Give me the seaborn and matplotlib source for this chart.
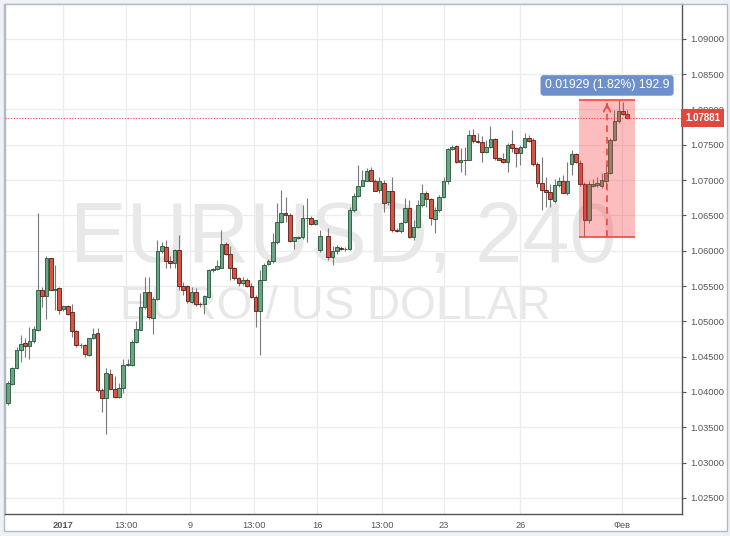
import numpy as np
import pandas as pd
import seaborn as sns
import matplotlib.pyplot as plt
import matplotlib.transforms as mtransforms
from matplotlib.patches import Rectangle


# EURUSD 4h candles (one slot is empty)

opens = [
    1.0384, 1.0411, 1.0434, 1.0460, 1.0469, 1.0465, 1.0472, 1.0488, 1.0545, 1.0536,
    1.0589, 1.0545, 1.0547, 1.0517, 1.0521, 1.0513, 1.0486, 1.0466, 1.0466, 1.0452,
    1.0476, 1.0483, 1.0403, 1.0392, 1.0426, 1.0404, 1.0393, 1.0405, 1.0438, 1.0438,
    1.0471, 1.0488, 1.0520, 1.0542, 1.0505, 1.0531, 1.0599, 1.0605, 1.0585, 1.0583,
    1.0601, 1.0550, 1.0550, 1.0528, 1.0542, 1.0525, 1.0524, 1.0535, 1.0572, 1.0574,
    1.0576, 1.0610, 1.0596, 1.0575, 1.0561, 1.0554, 1.0559, 1.0550, 1.0535, 1.0514,
    1.0559, 1.0581, 1.0585, 1.0613, 1.0641, 1.0654, 1.0651, 1.0614, 1.0618, 1.0619,
    1.0646, 1.0647, 1.0638, 1.0601, np.nan, 1.0621, 1.0591, 1.0599, 1.0604, 1.0602,
    1.0602, 1.0658, 1.0678, 1.0692, 1.0699, 1.0714, 1.0699, 1.0686, 1.0696, 1.0669,
    1.0684, 1.0630, 1.0628, 1.0640, 1.0661, 1.0620, 1.0633, 1.0665, 1.0681, 1.0673,
    1.0645, 1.0657, 1.0676, 1.0699, 1.0744, 1.0748, 1.0725, 1.0729, 1.0729, 1.0764,
    1.0756, 1.0754, 1.0740, 1.0747, 1.0758, 1.0731, 1.0730, 1.0726, 1.0751, 1.0746,
    1.0738, 1.0747, 1.0759, 1.0757, 1.0723, 1.0696, 1.0686, 1.0683, 1.0671, 1.0693,
    1.0699, 1.0682, 1.0723, 1.0737, 1.0724, 1.0695, 1.0643, 1.0692, 1.0693, 1.0692,
    1.0699, 1.0710, 1.0757, 1.0783, 1.0798, 1.0794,
]
highs = [
    1.0415, 1.0436, 1.0464, 1.0481, 1.0477, 1.0492, 1.0493, 1.0654, 1.0548, 1.0592,
    1.0590, 1.0580, 1.0548, 1.0522, 1.0523, 1.0525, 1.0488, 1.0469, 1.0468, 1.0477,
    1.0490, 1.0490, 1.0405, 1.0434, 1.0433, 1.0423, 1.0413, 1.0446, 1.0446, 1.0474,
    1.0500, 1.0540, 1.0563, 1.0563, 1.0535, 1.0615, 1.0613, 1.0615, 1.0592, 1.0603,
    1.0622, 1.0556, 1.0551, 1.0549, 1.0547, 1.0527, 1.0537, 1.0574, 1.0576, 1.0587,
    1.0629, 1.0613, 1.0606, 1.0577, 1.0563, 1.0563, 1.0561, 1.0554, 1.0537, 1.0573,
    1.0582, 1.0588, 1.0625, 1.0667, 1.0686, 1.0676, 1.0653, 1.0619, 1.0621, 1.0665,
    1.0674, 1.0649, 1.0644, 1.0630, np.nan, 1.0632, 1.0606, 1.0608, 1.0606, 1.0605,
    1.0662, 1.0681, 1.0721, 1.0714, 1.0717, 1.0719, 1.0702, 1.0705, 1.0700, 1.0684,
    1.0705, 1.0632, 1.0641, 1.0674, 1.0672, 1.0644, 1.0672, 1.0695, 1.0684, 1.0674,
    1.0662, 1.0679, 1.0705, 1.0745, 1.0750, 1.0750, 1.0745, 1.0747, 1.0771, 1.0773,
    1.0766, 1.0762, 1.0757, 1.0776, 1.0759, 1.0733, 1.0738, 1.0752, 1.0771, 1.0747,
    1.0750, 1.0766, 1.0764, 1.0760, 1.0725, 1.0733, 1.0705, 1.0695, 1.0702, 1.0705,
    1.0707, 1.0726, 1.0743, 1.0739, 1.0729, 1.0697, 1.0698, 1.0702, 1.0705, 1.0710,
    1.0724, 1.0759, 1.0799, 1.08128, 1.0811, 1.0799,
]
lows = [
    1.0382, 1.0410, 1.0433, 1.0442, 1.0450, 1.0446, 1.0470, 1.0486, 1.0520, 1.0504,
    1.0544, 1.0516, 1.0511, 1.0515, 1.0509, 1.0478, 1.0464, 1.0462, 1.0450, 1.0451,
    1.0475, 1.0400, 1.0372, 1.0341, 1.0403, 1.0392, 1.0392, 1.0398, 1.0437, 1.0437,
    1.0470, 1.0488, 1.0518, 1.0504, 1.0482, 1.0530, 1.0597, 1.0575, 1.0575, 1.0576,
    1.0544, 1.0537, 1.0526, 1.0526, 1.0521, 1.0520, 1.0511, 1.0533, 1.0570, 1.0572,
    1.0575, 1.0594, 1.0559, 1.0559, 1.0550, 1.0551, 1.0549, 1.0533, 1.0492, 1.0452,
    1.0559, 1.0580, 1.0582, 1.0610, 1.0639, 1.0641, 1.0613, 1.0603, 1.0616, 1.0616,
    1.0613, 1.0636, 1.0636, 1.0598, np.nan, 1.0587, 1.0580, 1.0596, 1.0601, 1.0600,
    1.0601, 1.0655, 1.0676, 1.0691, 1.0698, 1.0698, 1.0684, 1.0681, 1.0655, 1.0665,
    1.0627, 1.0627, 1.0625, 1.0639, 1.0618, 1.0615, 1.0632, 1.0662, 1.0662, 1.0636,
    1.0625, 1.0655, 1.0674, 1.0695, 1.0743, 1.0724, 1.0712, 1.0707, 1.0728, 1.0753,
    1.0752, 1.0726, 1.0738, 1.0746, 1.0729, 1.0728, 1.0724, 1.0712, 1.0740, 1.0719,
    1.0721, 1.0745, 1.0754, 1.0720, 1.0690, 1.0658, 1.0662, 1.0662, 1.0667, 1.0690,
    1.0681, 1.0679, 1.0707, 1.0724, 1.0692, 1.06199, 1.0639, 1.0690, 1.0690, 1.0689,
    1.0688, 1.0709, 1.0756, 1.0781, 1.0792, 1.0787,
]
closes = [
    1.0412, 1.0434, 1.0460, 1.0468, 1.0465, 1.0472, 1.0489, 1.0544, 1.0536, 1.0589,
    1.0545, 1.0546, 1.0516, 1.0521, 1.0511, 1.0487, 1.0466, 1.0467, 1.0454, 1.0476,
    1.0482, 1.0403, 1.0392, 1.0427, 1.0404, 1.0393, 1.0405, 1.0438, 1.0440, 1.0471,
    1.0489, 1.0520, 1.0542, 1.0506, 1.0531, 1.0599, 1.0606, 1.0585, 1.0583, 1.0601,
    1.0550, 1.0544, 1.0529, 1.0542, 1.0525, 1.0524, 1.0536, 1.0573, 1.0574, 1.0578,
    1.0610, 1.0596, 1.0575, 1.0561, 1.0554, 1.0559, 1.0550, 1.0535, 1.0514, 1.0559,
    1.0580, 1.0585, 1.0613, 1.0641, 1.0654, 1.0651, 1.0614, 1.0619, 1.0620, 1.0646,
    1.0647, 1.0638, 1.0643, 1.0621, np.nan, 1.0591, 1.0599, 1.0605, 1.0602, 1.0603,
    1.0658, 1.0678, 1.0692, 1.0700, 1.0713, 1.0699, 1.0685, 1.0698, 1.0668, 1.0684,
    1.0629, 1.0628, 1.0639, 1.0661, 1.0620, 1.0633, 1.0665, 1.0681, 1.0673, 1.0647,
    1.0657, 1.0676, 1.0699, 1.0744, 1.0747, 1.0725, 1.0729, 1.0728, 1.0764, 1.0756,
    1.0754, 1.0740, 1.0747, 1.0758, 1.0731, 1.0729, 1.0726, 1.0750, 1.0746, 1.0739,
    1.0747, 1.0759, 1.0756, 1.0723, 1.0696, 1.0686, 1.0683, 1.0673, 1.0693, 1.0699,
    1.0682, 1.0699, 1.0737, 1.0726, 1.0695, 1.0644, 1.0694, 1.0694, 1.0696, 1.0700,
    1.0710, 1.0757, 1.0784, 1.0798, 1.0794, 1.07881,
]

time_ticks = [13, 27.7, 42.6, 57.5, 72.4, 87.6, 102, 120, 143.8]
time_labels = ["2017", "13:00", "9", "13:00", "16", "13:00", "23", "26", "Фев"]
price_ticks = [1.025, 1.030, 1.035, 1.040, 1.045, 1.050, 1.055, 1.060, 1.065,
               1.070, 1.075, 1.080, 1.085, 1.090]

last_price = 1.07881
range_low = 1.06199
range_high = 1.08128
range_text = "0.01929 (1.82%) 192.9"


# Build table

df = pd.DataFrame({"open": opens, "high": highs, "low": lows, "close": closes})
df["idx"] = np.arange(len(df))
df = df.dropna()
up = df["close"] >= df["open"]
body_low = df[["open", "close"]].min(axis=1)
body_h = (df["close"] - df["open"]).abs().clip(lower=0.00006)


# Figure

sns.set_theme(style="white")
plt.rcParams["font.family"] = ["Liberation Sans", "DejaVu Sans"]

fig = plt.figure(figsize=(7.3, 5.36), dpi=100, facecolor="#eef1f5")
panel = Rectangle((4 / 730, 5 / 536), 723 / 730, 527 / 536,
                  transform=fig.transFigure, facecolor="white",
                  edgecolor="#b4b9c2", lw=1, zorder=-5)
fig.patches.append(panel)
ax = fig.add_axes([5 / 730, 22 / 536, 677 / 730, 510 / 536])
ax.set_zorder(1)
ax.set_facecolor("white")

# watermark
ax.text(0.5, 0.494, "EURUSD, 240", transform=ax.transAxes, ha="center", va="baseline",
        fontsize=61, color="#e8e8e8", zorder=1)
ax.text(0.488, 0.382, "EURO / US DOLLAR", transform=ax.transAxes, ha="center",
        va="baseline", fontsize=33, color="#e8e8e8", zorder=1)

# candles
ax.vlines(df["idx"], df["low"], df["high"], color="#7a7a7c", lw=0.8, zorder=2)
ax.bar(df["idx"], body_h, bottom=body_low, width=0.85,
       color=np.where(up, "#6ba583", "#d75442"),
       edgecolor=np.where(up, "#225437", "#5b1a13"), lw=0.6, zorder=3)

# last price line
ax.axhline(last_price, color="#e8473e", lw=0.8, ls=(0, (1, 1.5)), zorder=4)

# measurement box
x0, x1, xa = 133.8, 146.8, 140.3
ax.add_patch(Rectangle((x0, range_low), x1 - x0, range_high - range_low,
                       facecolor=(0.96, 0.2, 0.2, 0.32), edgecolor="none", zorder=5))
ax.hlines([range_low, range_high], x0, x1, color="#f0483e", lw=1.2, zorder=6)
ax.vlines(xa, range_low, range_high - 0.0003, color="#f0483e", lw=1.2,
          linestyles=(0, (4, 3)), zorder=6)
ax.annotate("", xy=(xa, range_high), xytext=(xa, range_high - 0.0012),
            arrowprops=dict(arrowstyle="->", color="#f0483e", lw=1.2), zorder=6)
ax.text(xa, 1.0834, range_text, ha="center", va="center", color="white", fontsize=8.8,
        zorder=7, bbox=dict(boxstyle="round,pad=0.35,rounding_size=0.25",
                            fc="#6d8fca", ec="none"))

# axes
ax.set_xlim(-0.7, 157.85)
ax.set_ylim(1.02272, 1.09493)
ax.set_xticks(time_ticks, time_labels)
ax.set_yticks(price_ticks, [f"{v:.5f}" for v in price_ticks])
ax.yaxis.tick_right()
ax.tick_params(axis="both", length=3, width=0.8, color="#555555",
               labelsize=6.7, labelcolor="#555555")
ax.tick_params(axis="x", pad=2)
ax.tick_params(axis="y", pad=3)
ax.get_xticklabels()[0].set_fontweight("bold")
ax.grid(True, color="#ececec", lw=0.9)
ax.set_axisbelow(True)

for side in ["left", "top"]:
    ax.spines[side].set_color("#b4b9c2")
for side in ["right", "bottom"]:
    ax.spines[side].set_color("#555555")
for side in ax.spines:
    ax.spines[side].set_linewidth(1)

# last price tag on the price scale
trans = mtransforms.blended_transform_factory(ax.transAxes, ax.transData)
ax.text(1.005, last_price, f"{last_price:.5f}", transform=trans, ha="left", va="center",
        color="white", fontsize=7, fontweight="bold", clip_on=False, zorder=10,
        bbox=dict(boxstyle="square,pad=0.4", fc="#e0483d", ec="none"))

plt.savefig("out.png", dpi=100, facecolor=fig.get_facecolor())
